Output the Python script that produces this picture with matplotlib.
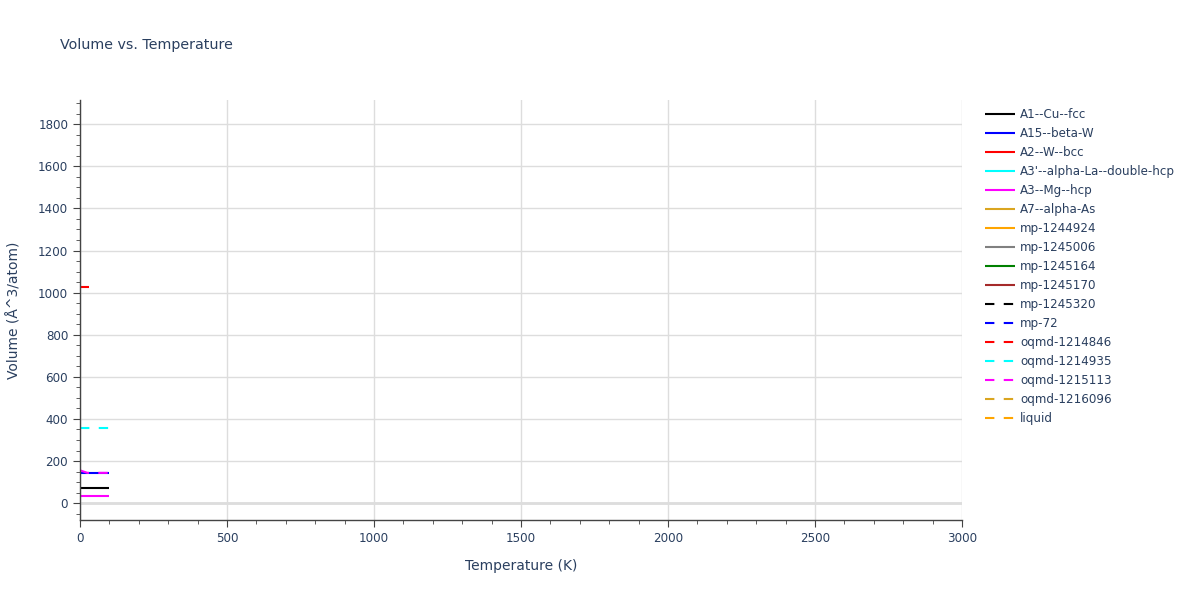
"""Volume vs. Temperature for the competing phases (plotly-style recreation)."""

import matplotlib

matplotlib.use("Agg")
import matplotlib.pyplot as plt
from matplotlib.ticker import MultipleLocator

TEXT = "#2a3f5f"

names = [
    "A1--Cu--fcc", "A15--beta-W", "A2--W--bcc", "A3'--alpha-La--double-hcp",
    "A3--Mg--hcp", "A7--alpha-As", "mp-1244924", "mp-1245006", "mp-1245164",
    "mp-1245170", "mp-1245320", "mp-72", "oqmd-1214846", "oqmd-1214935",
    "oqmd-1215113", "oqmd-1216096", "liquid",
]
colors = [
    "black", "blue", "red", "cyan", "magenta", "goldenrod", "orange", "gray",
    "green", "brown", "black", "blue", "red", "cyan", "magenta", "goldenrod",
    "orange",
]
dashed = [False] * 10 + [True] * 7

# temperature (K) and volume (Å^3/atom) per phase; empty = nothing visible
temps = {
    "A1--Cu--fcc": [0, 100],
    "A15--beta-W": [0, 100],
    "A3--Mg--hcp": [0, 100],
    "oqmd-1214846": [0, 30],
    "oqmd-1214935": [0, 100],
    "oqmd-1215113": [0, 25, 100],
}
volumes = {
    "A1--Cu--fcc": [71, 71],
    "A15--beta-W": [141, 141],
    "A3--Mg--hcp": [36, 36],
    "oqmd-1214846": [1027, 1027],
    "oqmd-1214935": [357, 357],
    "oqmd-1215113": [156, 144, 144],
}

fig = plt.figure(figsize=(12, 6), dpi=100)
ax = fig.add_axes([80 / 1200, 80 / 600, 882 / 1200, 420 / 600])

for name, c, d in zip(names, colors, dashed):
    ls = (0, (4.5, 4.5)) if d else "-"
    ax.plot(temps.get(name, []), volumes.get(name, []), color=c, lw=1.5,
            linestyle=ls, label=name, solid_capstyle="butt", dash_capstyle="butt")

ax.set_xlim(0, 3000)
ax.set_ylim(-80, 1915)
ax.xaxis.set_major_locator(MultipleLocator(500))
ax.xaxis.set_minor_locator(MultipleLocator(100))
ax.yaxis.set_major_locator(MultipleLocator(200))
ax.yaxis.set_minor_locator(MultipleLocator(50))
ax.grid(True, which="major", color="#dddddd", lw=1)
ax.axhline(0, color="#dddddd", lw=2, zorder=0.5)
ax.set_axisbelow(True)

for s in ["top", "right"]:
    ax.spines[s].set_visible(False)
for s in ["left", "bottom"]:
    ax.spines[s].set_color("#444444")
    ax.spines[s].set_linewidth(1)
ax.tick_params(which="major", length=5, color="#444444", labelcolor=TEXT, labelsize=8.6)
ax.tick_params(which="minor", length=3, color="#444444")

ax.set_xlabel("Temperature (K)", color=TEXT, fontsize=10, labelpad=10)
ax.set_ylabel("Volume (Å^3/atom)", color=TEXT, fontsize=10, labelpad=12)
fig.text(60 / 1200, 1 - 45 / 600, "Volume vs. Temperature", color=TEXT,
         fontsize=10.3, va="center", ha="left")

leg = ax.legend(loc="upper left", bbox_to_anchor=(1.017, 1.0), frameon=False,
                fontsize=8.6, labelspacing=0.50, handlelength=2.5,
                handletextpad=0.4, borderaxespad=0.3)
for t in leg.get_texts():
    t.set_color(TEXT)

fig.savefig("out.png", dpi=100)
